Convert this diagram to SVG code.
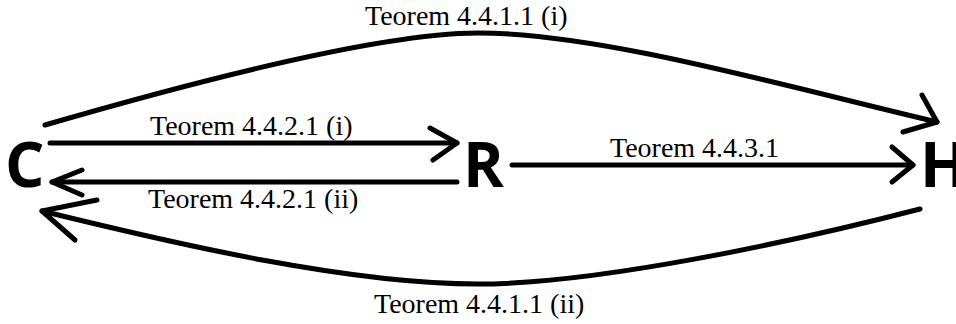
<svg xmlns="http://www.w3.org/2000/svg" width="956" height="324" viewBox="0 0 956 324">
<style>
.node{font-family:"Open Sans","DejaVu Sans",sans-serif;font-weight:bold;font-size:62px;fill:#000}
.edge{fill:none;stroke:#000;stroke-width:5;stroke-linecap:round;stroke-linejoin:round}
.lbl{font-family:"Liberation Serif","Times New Roman",serif;font-size:28px;fill:#000}
</style>
<rect width="956" height="324" fill="#fff"/>
<g id="node-C"><text class="node" x="5" y="187">C</text></g>
<g id="node-R"><text class="node" x="463" y="187">R</text></g>
<g id="node-H"><text class="node" x="920" y="187">H</text></g>
<g id="connectors">
  <g id="e-C-H">
    <path class="edge" d="M45,125 C200,80 380,33 478,33 C600,33 780,85 937,122"/>
    <path class="edge" d="M922,95 L937,122 L903,132"/>
    <text class="lbl" x="365" y="25">Teorem 4.4.1.1 (i)</text>
  </g>
  <g id="e-C-R">
    <path class="edge" d="M50,143 L457,143"/>
    <path class="edge" d="M430,128 L457,143 L433,160"/>
    <text class="lbl" x="150" y="135">Teorem 4.4.2.1 (i)</text>
  </g>
  <g id="e-R-C">
    <path class="edge" d="M457,182 L52,182"/>
    <path class="edge" d="M82,170 L52,182 L82,195"/>
    <text class="lbl" x="148" y="208">Teorem 4.4.2.1 (ii)</text>
  </g>
  <g id="e-R-H">
    <path class="edge" d="M512,165 L913,165"/>
    <path class="edge" d="M892,147 L913,165 L892,182"/>
    <text class="lbl" x="610" y="157">Teorem 4.4.3.1</text>
  </g>
  <g id="e-H-C">
    <path class="edge" d="M920,209 C800,240 600,284 478,284 C350,284 180,245 42,211"/>
    <path class="edge" d="M97,200 L42,211 L75,240"/>
    <text class="lbl" x="374" y="313">Teorem 4.4.1.1 (ii)</text>
  </g>
</g>
</svg>
